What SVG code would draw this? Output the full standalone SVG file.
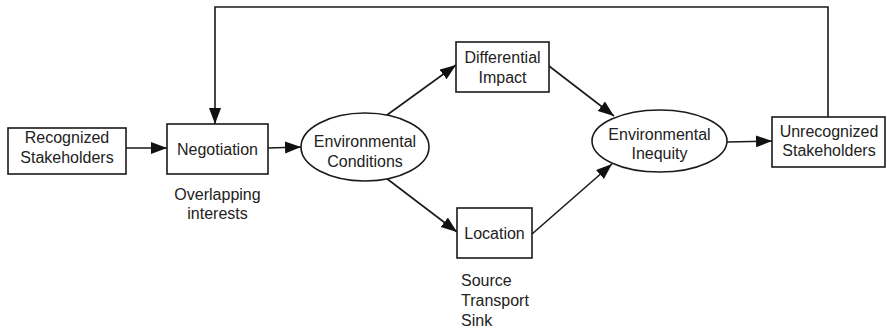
<svg xmlns="http://www.w3.org/2000/svg" width="887" height="331" viewBox="0 0 887 331">
<style>
.box{fill:#fff;stroke:#1a1a1a;stroke-width:1.6}
.t{font-family:"Liberation Sans",Arial,sans-serif;font-size:16px;fill:#222;text-anchor:middle}
.l{font-family:"Liberation Sans",Arial,sans-serif;font-size:16px;fill:#222}
.c{fill:none;stroke:#1a1a1a;stroke-width:1.6}
</style>
<defs>
<marker id="ah" markerUnits="userSpaceOnUse" markerWidth="18" markerHeight="14" refX="16" refY="6" orient="auto">
<path d="M0,0 L16,6 L0,12 z" fill="#111"/>
</marker>
</defs>
<rect width="887" height="331" fill="#fff"/>
<g id="connectors">
<line class="c" x1="126" y1="148" x2="167" y2="148" marker-end="url(#ah)"/>
<line class="c" x1="268" y1="148" x2="301" y2="147" marker-end="url(#ah)"/>
<line class="c" x1="387" y1="115" x2="456" y2="65" marker-end="url(#ah)"/>
<line class="c" x1="386" y1="178" x2="457" y2="232" marker-end="url(#ah)"/>
<line class="c" x1="549" y1="66" x2="614" y2="116" marker-end="url(#ah)"/>
<line class="c" x1="532" y1="234" x2="612" y2="164" marker-end="url(#ah)"/>
<line class="c" x1="727" y1="142" x2="772" y2="141" marker-end="url(#ah)"/>
<polyline class="c" points="828,117 828,7 215,7 215,124" marker-end="url(#ah)"/>
</g>
<g id="recognized">
<rect class="box" x="8" y="128" width="118" height="46"/>
<text class="t" x="67" y="143">Recognized</text>
<text class="t" x="67" y="163">Stakeholders</text>
</g>
<g id="negotiation">
<rect class="box" x="167" y="124" width="101" height="50"/>
<text class="t" x="217.5" y="155">Negotiation</text>
</g>
<g id="overlapping">
<text class="t" x="217.5" y="200">Overlapping</text>
<text class="t" x="217.5" y="219">interests</text>
</g>
<g id="envconditions">
<ellipse class="box" cx="365" cy="147" rx="64" ry="34"/>
<text class="t" x="365" y="147">Environmental</text>
<text class="t" x="365" y="167">Conditions</text>
</g>
<g id="differential">
<rect class="box" x="456" y="42" width="93" height="50"/>
<text class="t" x="502.5" y="63">Differential</text>
<text class="t" x="502.5" y="83">Impact</text>
</g>
<g id="location">
<rect class="box" x="457" y="208" width="75" height="50"/>
<text class="t" x="494.5" y="239">Location</text>
</g>
<g id="sources">
<text class="l" x="461" y="286">Source</text>
<text class="l" x="461" y="306">Transport</text>
<text class="l" x="461" y="326">Sink</text>
</g>
<g id="envinequity">
<ellipse class="box" cx="659.5" cy="141" rx="67.5" ry="31"/>
<text class="t" x="659.5" y="140">Environmental</text>
<text class="t" x="659.5" y="159">Inequity</text>
</g>
<g id="unrecognized">
<rect class="box" x="772" y="117" width="113" height="50"/>
<text class="t" x="829" y="137">Unrecognized</text>
<text class="t" x="829" y="156">Stakeholders</text>
</g>
</svg>
